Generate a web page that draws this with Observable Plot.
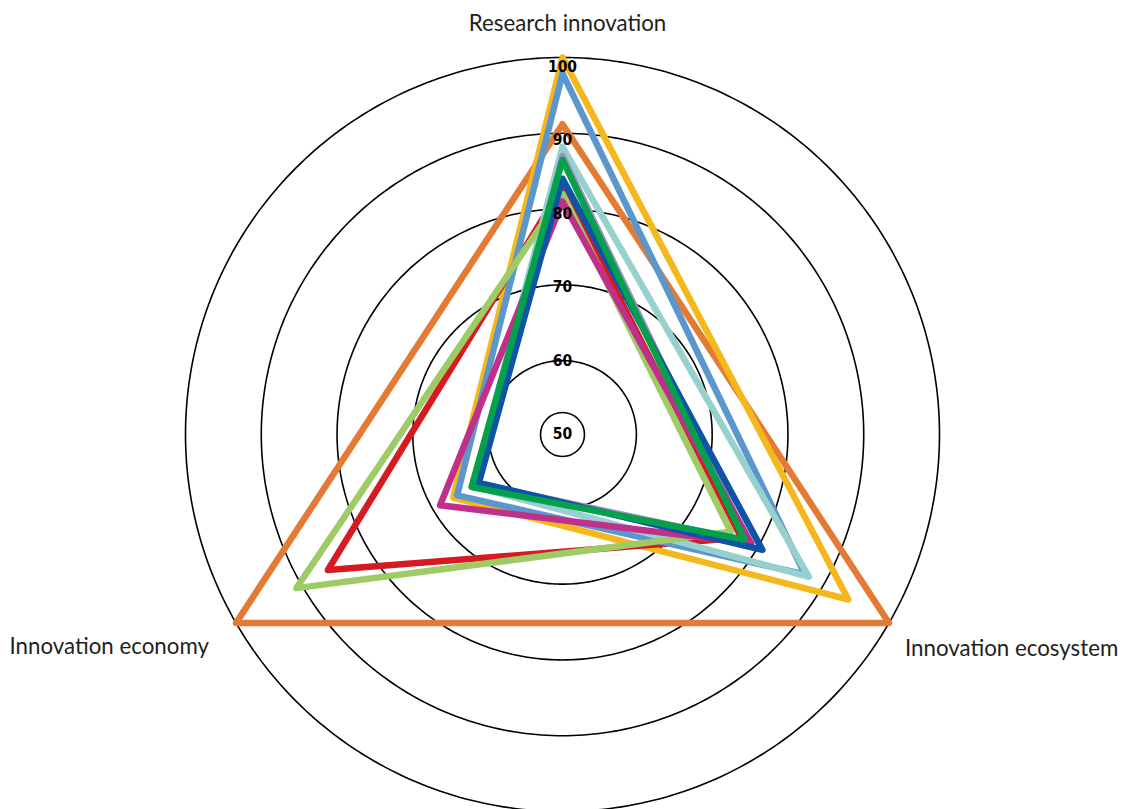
<!DOCTYPE html>
<html>
<head>
<meta charset="utf-8">
<script src="https://cdn.jsdelivr.net/npm/d3@7"></script>
<script src="https://cdn.jsdelivr.net/npm/@observablehq/plot@0.6"></script>
<style>
  body { margin: 0; background: #fff; }
  #chart svg { display: block; }
</style>
</head>
<body>
<div id="chart"></div>
<script>
// ---- Data ----
const axesLabels = ["Research innovation", "Innovation ecosystem", "Innovation economy"];
// values per series: [Research innovation, Innovation ecosystem, Innovation economy]
const seriesNames = ["Orange", "Yellow", "Red", "Light blue", "Teal", "Lavender", "Light green", "Magenta", "Dark blue", "Green"];
const orangeValues     = [91.2, 100.0, 100.0];
const yellowValues     = [100.0, 93.8, 66.9];
const redValues        = [83.0, 77.5, 86.0];
const lightBlueValues  = [97.9, 87.2, 66.3];
const tealValues       = [88.2, 87.8, 63.9];
const lavenderValues   = [87.0, 78.5, 63.2];
const lightGreenValues = [82.0, 75.9, 90.8];
const magentaValues    = [81.0, 79.0, 68.9];
const darkBlueValues   = [84.0, 80.7, 63.0];
const greenValues      = [86.5, 78.0, 64.1];
const seriesColors = ["#e37b34", "#f5b81c", "#d51a22", "#5b97cd", "#97d1ce", "#a08fc5", "#9fcb67", "#c0308b", "#0d54a6", "#04a04b"];
const ringValues = [50, 60, 70, 80, 90, 100];
const tickLabels = ["50", "60", "70", "80", "90", "100"];

const allValues = [orangeValues, yellowValues, redValues, lightBlueValues, tealValues,
                   lavenderValues, lightGreenValues, magentaValues, darkBlueValues, greenValues];

// ---- Layout ----
const W = 1126, H = 809;
const CX = 562, CY = 434, R = 377;
const vMin = 50.25, vMax = 100;
const k = R / (vMax - vMin);          // px per value unit
const labelFactor = 0.97;             // tick labels are spaced slightly tighter than rings

const angle = i => i * 2 * Math.PI / 3;
const px = (r, i) => r * Math.sin(angle(i));
const py = (r, i) => r * Math.cos(angle(i));

const polyRows = [];
allValues.forEach((vals, s) => {
  vals.forEach((v, i) => {
    polyRows.push({name: seriesNames[s], axis: axesLabels[i], value: v,
                   x: px(v - vMin, i), y: py(v - vMin, i)});
  });
});

const ringRows = [];
ringValues.filter(v => v - vMin > 0).forEach(v => {
  for (let a = 0; a < 360; a += 1) {
    const t = a * Math.PI / 180;
    ringRows.push({ring: v, x: (v - vMin) * Math.sin(t), y: (v - vMin) * Math.cos(t)});
  }
});

const tickRows = ringValues.map((v, i) => ({value: v, label: tickLabels[i], y: (v - 50) * labelFactor}));

const axisLabelRows = axesLabels.map((name, i) => ({name, x: px(vMax - vMin, i), y: py(vMax - vMin, i)}));

const labelFont = "Lato, 'Open Sans', sans-serif";
const labelStyle = {x: "x", y: "y", text: "name", fontSize: 22.3, fontWeight: 400,
                    fontFamily: labelFont, fill: "#231f20", lineAnchor: "bottom"};

const chart = Plot.plot({
  width: W,
  height: H,
  margin: 0,
  x: {domain: [-CX / k, (W - CX) / k], range: [0, W], axis: null},
  y: {domain: [-(H - CY) / k, CY / k], range: [H, 0], axis: null},
  color: {domain: seriesNames, range: seriesColors},
  marks: [
    Plot.line(ringRows, {x: "x", y: "y", z: "ring", curve: "linear-closed", stroke: "#000", strokeWidth: 1.6}),
    Plot.dot([0], {x: 0, y: 0, r: 22, stroke: "#000", strokeWidth: 1.6, fill: "#fff"}),
    Plot.line(polyRows, {x: "x", y: "y", z: "name", stroke: "name", curve: "linear-closed",
                         strokeWidth: 6.5, strokeLinejoin: "round"}),
    Plot.text(tickRows, {x: 0, y: "y", text: "label", fontSize: 15.5, fontWeight: "bold",
                         fontFamily: "'DejaVu Sans Condensed', 'DejaVu Sans', sans-serif",
                         fill: "#000", lineAnchor: "middle", textAnchor: "middle"}),
    Plot.text(axisLabelRows.filter((d, i) => i === 0), {...labelStyle, textAnchor: "middle", dx: 5, dy: -27}),
    Plot.text(axisLabelRows.filter((d, i) => i === 1), {...labelStyle, textAnchor: "start", dx: 16, dy: 33}),
    Plot.text(axisLabelRows.filter((d, i) => i === 2), {...labelStyle, textAnchor: "end", dx: -27, dy: 31})
  ]
});
document.getElementById("chart").append(chart);
</script>
</body>
</html>
